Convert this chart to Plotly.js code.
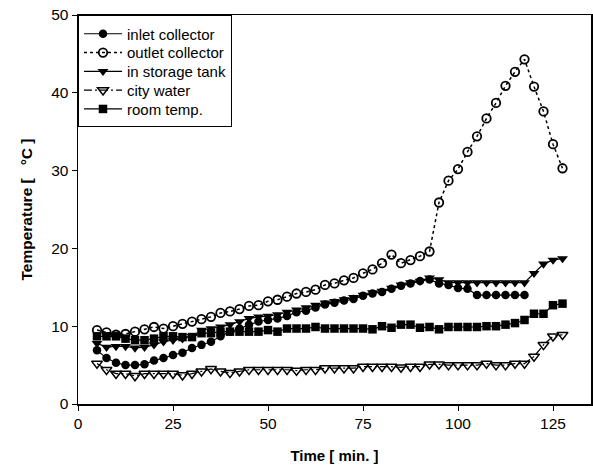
<!DOCTYPE html>
<html>
<head>
<meta charset="utf-8">
<script src="https://cdn.plot.ly/plotly-3.0.1.min.js"></script>
<style>html,body{margin:0;padding:0;background:#fff;}#chart{width:593px;height:473px;}</style>
</head>
<body>
<div id="chart"></div>
<script>
var timeAll = [5,7.5,10,12.5,15,17.5,20,22.5,25,27.5,30,32.5,35,37.5,40,42.5,45,47.5,50,
  52.5,55,57.5,60,62.5,65,67.5,70,72.5,75,77.5,80,82.5,85,87.5,90,92.5,
  95,97.5,100,102.5,105,107.5,110,112.5,115,117.5,120,122.5,125,127.5];
var timeInlet = timeAll.slice(0, 46);

var inletCollector = [6.9,5.9,5.3,5.0,5.0,5.1,5.6,5.9,6.3,6.6,7.2,7.6,8.0,8.7,9.3,9.7,10.2,10.6,10.8,
  11.0,11.3,11.8,12.0,12.4,12.8,13.0,13.3,13.5,13.9,14.2,14.4,14.8,15.2,15.5,15.8,16.0,
  15.5,15.3,14.9,14.8,14.0,14.0,14.0,14.0,14.0,14.0];
var outletCollector = [9.5,9.2,8.9,9.0,9.3,9.6,9.9,9.7,10.0,10.3,10.6,10.9,11.2,11.7,11.9,12.2,12.6,12.7,13.2,
  13.4,13.8,14.2,14.4,14.7,15.3,15.5,15.9,16.2,16.8,17.3,18.1,19.2,18.1,18.5,19.0,19.6,
  25.9,28.7,30.2,32.4,34.4,36.7,38.7,40.9,42.7,44.3,40.8,37.6,33.4,30.3];
var storageTank = [7.8,7.3,7.4,7.4,7.2,7.3,7.6,8.0,8.2,8.4,8.7,9.5,9.7,9.9,10.2,10.6,11.0,11.2,11.3,
  11.5,11.8,12.1,12.4,12.7,13.0,13.2,13.4,13.7,14.0,14.3,14.5,14.9,15.3,15.6,15.8,16.2,
  16.0,15.6,15.6,15.6,15.6,15.6,15.6,15.6,15.6,15.6,16.8,18.0,18.5,18.7];
var cityWater = [5.2,4.4,3.9,3.9,3.6,3.9,3.9,3.9,3.9,3.7,3.9,4.2,4.5,4.2,4.0,4.2,4.4,4.4,4.4,
  4.4,4.4,4.3,4.4,4.4,4.6,4.6,4.6,4.6,4.8,4.8,4.8,4.8,4.7,4.8,4.8,5.1,
  5.1,5.0,5.0,5.0,5.0,5.2,5.0,5.0,5.2,5.2,6.1,7.6,8.7,8.9];
var roomTemp = [8.7,8.7,8.7,8.4,8.2,8.2,8.4,8.7,8.7,8.6,8.6,9.1,9.1,9.3,9.3,9.3,9.3,9.3,9.5,
  9.3,9.7,9.7,9.7,9.9,9.7,9.7,9.7,9.7,9.7,9.6,10.0,9.8,10.2,10.2,9.8,9.9,
  9.6,9.9,9.9,9.9,9.9,10.0,10.0,10.2,10.4,10.8,11.6,11.6,12.7,12.9];

var seriesNames = ["inlet collector","outlet collector","in storage tank","city water","room temp."];
var xTicks = [0,25,50,75,100,125];
var yTicks = [0,10,20,30,40,50];

var font = "Arial, 'Liberation Sans', sans-serif";
var traces = [
  {x: timeInlet, y: inletCollector, name: seriesNames[0], mode: "lines+markers",
   line: {color: "#000", width: 1.2}, marker: {symbol: "circle", size: 8.5, color: "#000"}},
  {x: timeAll, y: outletCollector, name: seriesNames[1], mode: "lines+markers",
   line: {color: "#000", width: 1.5, dash: "dot"}, marker: {symbol: "circle-open", size: 8.5, color: "#000", line: {width: 1.8, color: "#000"}}},
  {x: timeAll, y: storageTank, name: seriesNames[2], mode: "lines+markers",
   line: {color: "#000", width: 1.2}, marker: {symbol: "triangle-down", size: 9.5, color: "#000"}},
  {x: timeAll, y: cityWater, name: seriesNames[3], mode: "lines+markers",
   line: {color: "#000", width: 1.2, dash: "8px,3px,2px,3px"}, marker: {symbol: "triangle-down-open", size: 9.5, color: "#000", line: {width: 1.5, color: "#000"}}},
  {x: timeAll, y: roomTemp, name: seriesNames[4], mode: "lines+markers",
   line: {color: "#000", width: 1.2}, marker: {symbol: "square", size: 8.5, color: "#000"}}
];

var layout = {
  width: 593, height: 473,
  margin: {l: 78, r: 2, t: 15, b: 69},
  paper_bgcolor: "#fff", plot_bgcolor: "#fff",
  font: {family: font, color: "#000", size: 14},
  showlegend: true,
  legend: {x: 0, y: 1, xanchor: "left", yanchor: "top", bgcolor: "#fff",
    bordercolor: "#000", borderwidth: 1, font: {family: font, size: 15, color: "#000"},
    tracegroupgap: 0, itemwidth: 38},
  xaxis: {
    range: [0, 135], tickvals: xTicks, ticktext: xTicks.map(String),
    showgrid: false, zeroline: false, showline: true, linecolor: "#000", linewidth: 1.5,
    mirror: true, ticks: "outside", ticklen: 5, tickcolor: "#000", tickwidth: 1,
    tickfont: {family: font, size: 15.5, color: "#000"},
    title: {text: "<b>Time [ min. ]</b>", font: {family: font, size: 15, color: "#000"}, standoff: 19}
  },
  yaxis: {
    range: [0, 50], tickvals: yTicks, ticktext: yTicks.map(String),
    showgrid: false, zeroline: false, showline: true, linecolor: "#000", linewidth: 1.5,
    mirror: true, ticks: "outside", ticklen: 5, tickcolor: "#000", tickwidth: 1,
    tickfont: {family: font, size: 15.5, color: "#000"},
    title: {text: "<b>Temperature [ \u00a0 °C ]</b>", font: {family: font, size: 15.5, color: "#000"}, standoff: 14}
  }
};

Plotly.newPlot("chart", traces, layout, {displayModeBar: false, staticPlot: true}).then(function (gd) {
  // tighten legend row spacing to match the reference
  var items = gd.querySelectorAll(".legend .traces");
  if (items.length < 2) return;
  var getY = function (el) {
    var m = /translate\(\s*([-\d.]+)[ ,]+([-\d.]+)\)/.exec(el.getAttribute("transform") || "");
    return m ? [parseFloat(m[1]), parseFloat(m[2])] : [0, 0];
  };
  var p0 = getY(items[0]), p1 = getY(items[1]);
  var orig = p1[1] - p0[1], step = 18.8, shift = 1.5;
  for (var i = 0; i < items.length; i++) {
    var p = getY(items[i]);
    items[i].setAttribute("transform", "translate(" + p[0] + "," + (p0[1] + shift + i * step) + ")");
  }
  var bg = gd.querySelector(".legend rect.bg");
  if (bg) {
    var h = parseFloat(bg.getAttribute("height"));
    bg.setAttribute("height", h - (items.length - 1) * (orig - step) + shift);
  }
});
</script>
</body>
</html>
